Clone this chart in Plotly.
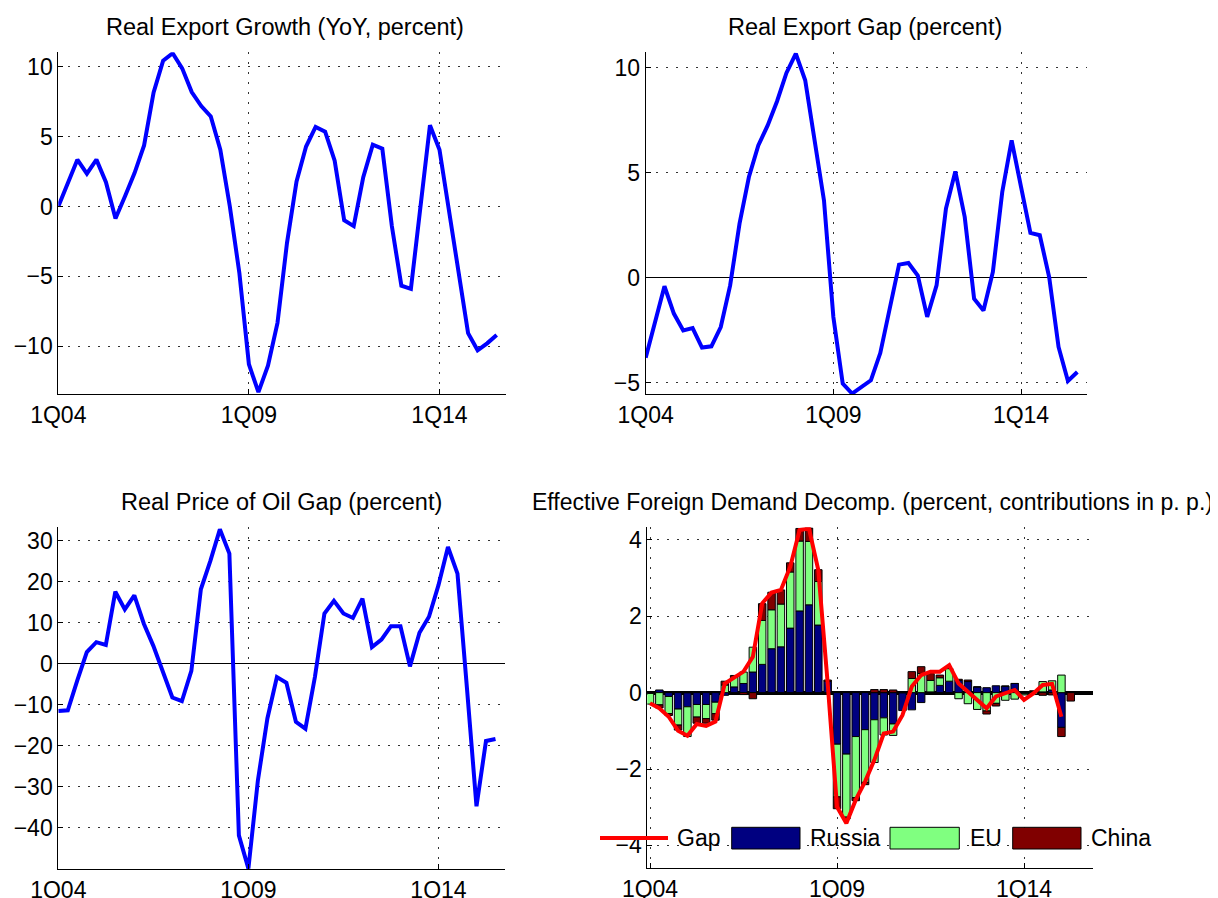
import plotly.graph_objects as go

# ---------------- data ----------------
quarters = [f"{q}Q{y:02d}" for y in range(4, 16) for q in range(1, 5)]
tick_labels = ["1Q04", "1Q09", "1Q14"]

export_growth = [0.0, 1.7, 3.36, 2.36, 3.36, 1.74, -0.86, 0.74, 2.4, 4.38, 8.17, 10.45,
                 10.98, 9.9, 8.2, 7.2, 6.45, 4.07, 0.0, -4.76, -11.3, -13.3, -11.4, -8.33,
                 -2.6, 1.8, 4.3, 5.7, 5.36, 3.29, -0.98, -1.4, 2.1, 4.43, 4.14, -1.4,
                 -5.67, -5.9, 0.0, 5.83, 4.07, -0.3, -4.6, -9.07, -10.3, -9.8, -9.2]

export_gap = [-3.81, -2.2, -0.41, -1.71, -2.51, -2.40, -3.33, -3.27, -2.35, -0.37, 2.57, 4.79,
              6.30, 7.25, 8.40, 9.75, 10.67, 9.40, 6.6, 3.68, -1.87, -5.05, -5.52, -5.2,
              -4.89, -3.59, -1.40, 0.62, 0.70, 0.10, -1.87, -0.37, 3.29, 5.06, 2.89, -1.0,
              -1.56, 0.27, 4.08, 6.54, 4.32, 2.13, 2.02, 0.03, -3.30, -4.92, -4.49]

oil_gap = [-11.5, -11.3, -4.0, 2.9, 5.3, 4.6, 17.6, 13.3, 16.7, 9.8, 4.4, -2.0,
           -8.2, -9.1, -1.7, 18.2, 25.1, 32.8, 26.9, -41.8, -49.9, -28.4, -13.3, -3.2,
           -4.6, -14.1, -15.8, -3.2, 12.3, 15.4, 12.3, 11.2, 15.9, 4.1, 5.9, 9.2,
           9.2, -0.6, 7.6, 11.5, 19.2, 28.5, 22.0, -6.0, -34.7, -18.8, -18.3]

russia = [-0.02, 0.07, -0.10, -0.43, -0.37, -0.31, -0.31, -0.25, -0.07, 0.15, 0.24, 0.54,
          0.74, 1.15, 1.20, 1.69, 2.14, 2.30, 1.77, 0.30, -1.35, -1.61, -1.15, -0.97,
          -0.71, -0.66, -0.82, -0.47, -0.45, -0.26, 0.02, 0.19, 0.30, 0.32, 0.29, 0.15,
          0.13, 0.18, 0.17, 0.24, -0.03, 0.03, 0.02, 0.07, -0.91, 0.0]

eu = [-0.28, -0.32, -0.45, -0.42, -0.78, -0.33, -0.37, -0.30, 0.20, 0.25, 0.30, 0.65,
      1.15, 1.02, 1.12, 1.47, 1.83, 1.66, 1.14, 0.0, -1.38, -1.65, -1.60, -1.38,
      -1.12, -0.45, -0.30, 0.0, 0.37, 0.50, 0.30, 0.20, 0.33, -0.16, -0.29, -0.44,
      -0.48, -0.28, -0.20, -0.17, -0.03, -0.05, 0.27, 0.24, 0.46, 0.0]

china = [0.0, -0.08, -0.05, -0.13, 0.0, -0.16, -0.12, -0.17, 0.10, 0.05, -0.05, -0.16,
         0.44, 0.46, 0.37, 0.24, 0.33, 0.35, 0.31, 0.03, -0.31, -0.05, -0.08, -0.06,
         0.08, 0.08, 0.07, 0.0, 0.18, 0.18, 0.18, 0.07, 0.0, 0.03, 0.04, 0.0,
         -0.08, -0.07, 0.0, 0.0, 0.0, 0.02, -0.07, -0.06, -0.24, -0.22]

demand_gap = [-0.28, -0.41, -0.63, -1.0, -1.13, -0.82, -0.87, -0.76, 0.24, 0.40, 0.55, 0.94,
              2.34, 2.62, 2.69, 3.30, 4.26, 4.30, 3.21, 0.25, -2.99, -3.42, -2.81, -2.33,
              -1.76, -1.07, -1.02, -0.59, 0.16, 0.46, 0.55, 0.55, 0.72, 0.24, 0.03, -0.19,
              -0.41, -0.10, -0.02, 0.07, -0.19, -0.02, 0.20, 0.23, -0.63]

titles = ["Real Export Growth (YoY, percent)", "Real Export Gap (percent)",
          "Real Price of Oil Gap (percent)",
          "Effective Foreign Demand Decomp. (percent, contributions in p. p.)"]

legend_names = ["Gap", "Russia", "EU", "China"]
bar_colors = ["#000080", "#80FF80", "#800000"]

# ---------------- layout helpers ----------------
PAGE_OFF = 8            # default body margin of the html page
W, H = 1218 - PAGE_OFF, 898 - PAGE_OFF
FONT = "Liberation Sans, Arial, Helvetica, sans-serif"
FS = 23
TITLE_SIZES = [23.5, 23.5, 23.5, 23]


def fx(p):
    return (p - PAGE_OFF) / W


def fy(p):
    return 1 - (p - PAGE_OFF) / H


fig = go.Figure()

line_series = [(export_growth, "x", "y"), (export_gap, "x2", "y2"), (oil_gap, "x3", "y3")]
for vals, xa, ya in line_series:
    fig.add_trace(go.Scatter(x=quarters[:len(vals)], y=vals, mode="lines",
                             line=dict(color="#0000FF", width=4),
                             xaxis=xa, yaxis=ya, showlegend=False))

for name, vals, col in zip(legend_names[1:], [russia, eu, china], bar_colors):
    fig.add_trace(go.Bar(x=quarters[:len(vals)], y=vals, name=name,
                         marker=dict(color=col, line=dict(color="black", width=1)),
                         xaxis="x4", yaxis="y4", showlegend=False))

fig.add_trace(go.Scatter(x=quarters[:len(demand_gap)], y=demand_gap, mode="lines",
                         line=dict(color="#FF0000", width=4), name="Gap",
                         xaxis="x4", yaxis="y4", showlegend=False))

# panel geometry (page pixels): x0, x1, ytop, ybottom
panels = [
    (58.3, 506.2, 52.3, 394.0),
    (645.7, 1086.7, 52.3, 394.0),
    (58.3, 505.0, 527.3, 869.0),
    (647.3, 1093.3, 527.3, 868.3),
]
xranges = [[0, 47], [0, 47], [0, 47], [-0.29, 47.41]]
yranges = [[-13.43, 11.05], [-5.54, 10.73], [-50.0, 33.3], [-4.6, 4.33]]
ytickvals = [[-10, -5, 0, 5, 10], [-5, 0, 5, 10],
             [-40, -30, -20, -10, 0, 10, 20, 30], [-4, -2, 0, 2, 4]]
zero = [(False, 1), (True, 1), (True, 1), (True, 3.5)]

grid = dict(showgrid=True, gridcolor="#333333", gridwidth=1, griddash="2px,8px")
common = dict(showline=True, linecolor="black", linewidth=1, ticks="inside", ticklen=5,
              tickcolor="black", automargin=False,
              tickfont=dict(family=FONT, size=FS, color="black"), **grid)

layout = {}
for i, (x0, x1, yt, yb) in enumerate(panels):
    k = "" if i == 0 else str(i + 1)
    layout["xaxis" + k] = dict(domain=[fx(x0), fx(x1)], anchor="y" + k, type="category",
                               categoryorder="array", categoryarray=quarters,
                               tickvals=tick_labels, ticktext=tick_labels,
                               range=xranges[i], zeroline=False, **common)
    layout["yaxis" + k] = dict(domain=[fy(yb), fy(yt)], anchor="x" + k,
                               range=yranges[i], tickvals=ytickvals[i],
                               zeroline=zero[i][0], zerolinecolor="black",
                               zerolinewidth=zero[i][1], **common)

fig.update_layout(**layout)

title_pos = [(284.5, 27.3), (865.3, 27.3), (281.5, 501.7), (872.5, 501.7)]
annotations = []
for t, (cx, cy), ts in zip(titles, title_pos, TITLE_SIZES):
    annotations.append(dict(text=t, x=fx(cx), y=fy(cy), xref="paper", yref="paper",
                            xanchor="center", yanchor="middle", showarrow=False,
                            font=dict(family=FONT, size=ts, color="black")))

# custom legend (MATLAB style, transparent, no frame)
ly = 838.0
shapes = [dict(type="line", xref="paper", yref="paper", x0=fx(600), x1=fx(668),
               y0=fy(ly), y1=fy(ly), line=dict(color="#FF0000", width=4))]
swatches = [(731.7, 800.0), (890.0, 959.3), (1012.7, 1081.0)]
for (sx0, sx1), col in zip(swatches, bar_colors):
    shapes.append(dict(type="rect", xref="paper", yref="paper", x0=fx(sx0), x1=fx(sx1),
                       y0=fy(849.0), y1=fy(827.3), fillcolor=col,
                       line=dict(color="black", width=1)))
label_x = [675.0, 808.0, 967.5, 1089.0]
for name, lx in zip(legend_names, label_x):
    annotations.append(dict(text=name, x=fx(lx), y=fy(ly), xref="paper", yref="paper",
                            xanchor="left", yanchor="middle", showarrow=False,
                            font=dict(family=FONT, size=FS, color="black")))

fig.update_layout(
    width=W, height=H, margin=dict(l=0, r=0, t=0, b=0, autoexpand=False),
    paper_bgcolor="white", plot_bgcolor="white",
    barmode="relative", bargap=0.2,
    annotations=annotations, shapes=shapes,
    font=dict(family=FONT, size=FS, color="black"),
)

fig.write_html("out.html")
